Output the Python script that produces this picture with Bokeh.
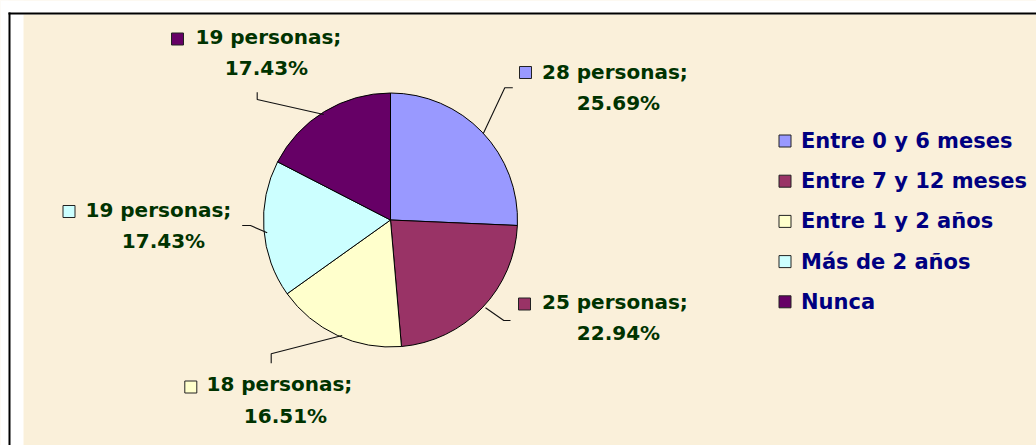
import math
from bokeh.plotting import figure
from bokeh.models import Range1d, ColumnDataSource
from bokeh.core.properties import value
from bokeh.embed import file_html
from bokeh.resources import INLINE

# ---- data ----
categories = ["Entre 0 y 6 meses", "Entre 7 y 12 meses", "Entre 1 y 2 años", "Más de 2 años", "Nunca"]
personas = [28, 25, 18, 19, 19]
colors = ["#9999FF", "#993366", "#FFFFCC", "#CCFFFF", "#660066"]

total = sum(personas)
pcts = [v / total * 100 for v in personas]

W, H = 1036, 445
def fx(px):
    return px
def fy(py):
    return H - py

p = figure(width=W, height=H, x_range=Range1d(0, W), y_range=Range1d(0, H),
           x_axis_type=None, y_axis_type=None, toolbar_location=None,
           output_backend="svg", min_border=0, outline_line_color=None,
           background_fill_color="#FAF0DA", border_fill_color="white")
p.xgrid.visible = False
p.ygrid.visible = False

# white margin areas and black frame
p.quad(left=[0, 0, 0], right=[fx(23), W, fx(8)], top=[H, H, H], bottom=[0, fy(14), 0],
       fill_color="white", line_alpha=0, line_width=0)
p.quad(left=[fx(8), fx(8)], right=[W, fx(10)], top=[fy(12), fy(12)], bottom=[fy(14), 0],
       fill_color="black", line_alpha=0, line_width=0)

# pie
cx, cy, r = fx(390), fy(219.5), 127
starts, ends = [], []
cum = 0
for v in personas:
    starts.append(math.pi / 2 - 2 * math.pi * cum / total)
    cum += v
    ends.append(math.pi / 2 - 2 * math.pi * cum / total)
src = ColumnDataSource(dict(start=starts, end=ends, color=colors))
p.wedge(x=cx, y=cy, radius=r, radius_units="screen", start_angle="start", end_angle="end",
        direction="clock", fill_color="color", line_color="black", line_width=1, source=src)

# leader lines (page coords)
leaders = [
    [(482.7, 133.3), (504.3, 87.3), (512.3, 87.3)],
    [(485, 307.3), (503.3, 320), (510, 320)],
    [(341.7, 335), (270.7, 353.3), (270.7, 362.7)],
    [(266.7, 232.3), (250, 225), (241.7, 225)],
    [(323.3, 114), (256.7, 99), (256.7, 91.7)],
]
p.multi_line(xs=[[fx(a) for a, b in L] for L in leaders], ys=[[fy(b) for a, b in L] for L in leaders],
             line_color="#111111", line_width=1.1)

# data labels: (line1 left x, line1 y, line2 center x, line2 y, marker x, marker y)
label_pos = [
    (541.5, 71.5, 618, 102.5, 525, 72),
    (541.5, 301.5, 618, 332.5, 524, 303.5),
    (206, 383, 285, 415, 190.3, 386.5),
    (85, 209, 163, 240.5, 68.5, 211),
    (195, 36, 266, 67.5, 177, 38.5),
]
lab_font = value("DejaVu Sans")
for i, (lx, ly, l2x, l2y, mx, my) in enumerate(label_pos):
    p.text(x=[fx(lx)], y=[fy(ly)], text=[f"{personas[i]} personas;"], text_font=lab_font,
           text_font_style="bold", text_font_size="20px", text_color="#003300",
           text_align="left", text_baseline="middle")
    p.text(x=[fx(l2x)], y=[fy(l2y)], text=[f"{pcts[i]:.2f}%"], text_font=lab_font,
           text_font_style="bold", text_font_size="20px", text_color="#003300",
           text_align="center", text_baseline="middle")
    p.scatter(x=[fx(mx)], y=[fy(my)], marker="square", size=12, fill_color=colors[i],
              line_color="#222222", line_width=1)

# legend
leg_y0, leg_dy = 140.5, 40.2
for i, c in enumerate(categories):
    yy = leg_y0 + i * leg_dy
    p.scatter(x=[fx(784.5)], y=[fy(yy)], marker="square", size=12, fill_color=colors[i],
              line_color="#222222", line_width=1)
    p.text(x=[fx(800.5)], y=[fy(yy)], text=[c], text_font=lab_font, text_font_style="bold",
           text_font_size="21px", text_color="#000080", text_align="left", text_baseline="middle")

open("out.html", "w").write(file_html(p, INLINE))
